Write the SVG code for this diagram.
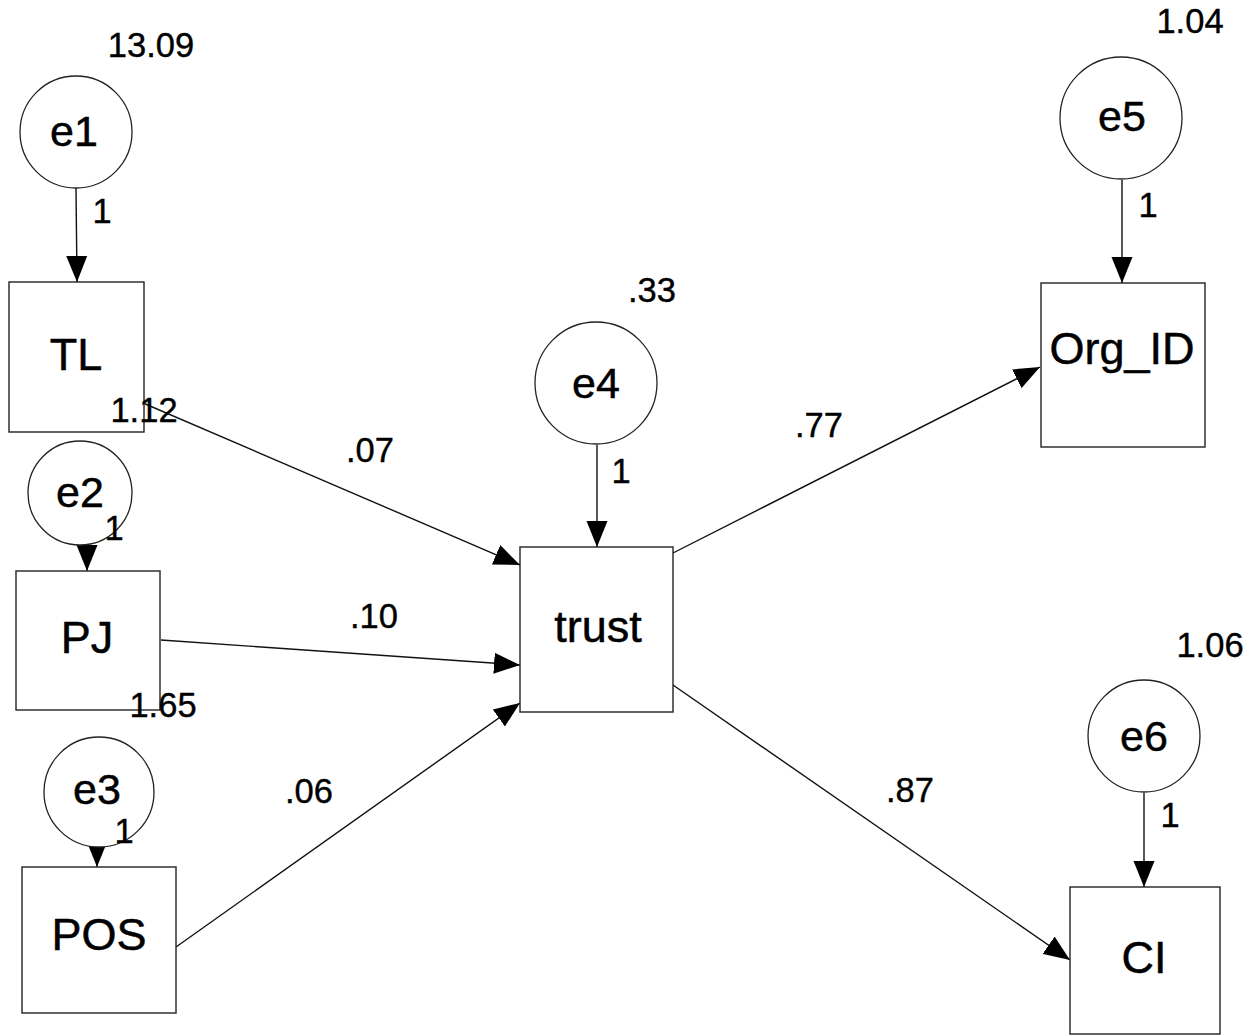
<svg xmlns="http://www.w3.org/2000/svg" width="1259" height="1036" viewBox="0 0 1259 1036">
  <style>
    .box { fill: #ffffff; stroke: #222222; stroke-width: 1.4; }
    .circ { fill: #ffffff; stroke: #222222; stroke-width: 1.3; }
    .edge { fill: none; stroke: #111111; stroke-width: 1.4; marker-end: url(#arrow); }
    .lbl { font-family: "Liberation Sans", Arial, sans-serif; font-size: 45px; fill: #000000; stroke: #000000; stroke-width: 0.5; text-anchor: middle; }
    .clbl { font-family: "Liberation Sans", Arial, sans-serif; font-size: 43px; fill: #000000; stroke: #000000; stroke-width: 0.5; text-anchor: middle; }
    .num { font-family: "Liberation Sans", Arial, sans-serif; font-size: 34.5px; fill: #000000; stroke: #000000; stroke-width: 0.4; text-anchor: middle; }
  </style>
  <defs>
    <marker id="arrow" markerUnits="userSpaceOnUse" markerWidth="27" markerHeight="22" refX="26" refY="11" orient="auto">
      <path d="M0,0.5 L26,11 L0,21.5 Z" fill="#000000"/>
    </marker>
  </defs>
  <rect width="1259" height="1036" fill="#ffffff"/>

  <g id="connectors">
    <line class="edge" x1="76" y1="188" x2="77" y2="282"/>
    <line class="edge" x1="87" y1="545" x2="87" y2="571"/>
    <line class="edge" x1="97" y1="847" x2="97" y2="867"/>
    <line class="edge" x1="597" y1="445" x2="597" y2="547"/>
    <line class="edge" x1="1122" y1="180" x2="1122" y2="283"/>
    <line class="edge" x1="1144" y1="793" x2="1144" y2="887"/>
    <line class="edge" x1="143" y1="403" x2="520" y2="565"/>
    <line class="edge" x1="161" y1="640" x2="520" y2="665"/>
    <line class="edge" x1="176" y1="947" x2="520" y2="703"/>
    <line class="edge" x1="673" y1="553" x2="1040" y2="367"/>
    <line class="edge" x1="673" y1="685" x2="1070" y2="960"/>
  </g>

  <g id="TL">
    <rect class="box" x="9" y="282" width="135" height="150"/>
    <text class="lbl" x="76" y="370">TL</text>
  </g>
  <g id="PJ">
    <rect class="box" x="16" y="571" width="144" height="139"/>
    <text class="lbl" x="87" y="653">PJ</text>
  </g>
  <g id="POS">
    <rect class="box" x="22" y="867" width="154" height="146"/>
    <text class="lbl" x="99" y="950">POS</text>
  </g>
  <g id="trust">
    <rect class="box" x="520" y="547" width="153" height="165"/>
    <text class="lbl" x="598" y="642">trust</text>
  </g>
  <g id="Org_ID">
    <rect class="box" x="1041" y="283" width="164" height="164"/>
    <text class="lbl" x="1122" y="364">Org_ID</text>
  </g>
  <g id="CI">
    <rect class="box" x="1070" y="887" width="150" height="147"/>
    <text class="lbl" x="1144" y="973">CI</text>
  </g>

  <g id="e1">
    <circle class="circ" cx="76" cy="132" r="56"/>
    <text class="clbl" x="74" y="146">e1</text>
  </g>
  <g id="e2">
    <circle class="circ" cx="80" cy="493" r="52"/>
    <text class="clbl" x="80" y="507">e2</text>
  </g>
  <g id="e3">
    <circle class="circ" cx="99" cy="792" r="55"/>
    <text class="clbl" x="97" y="804">e3</text>
  </g>
  <g id="e4">
    <circle class="circ" cx="596" cy="383" r="61"/>
    <text class="clbl" x="596" y="398">e4</text>
  </g>
  <g id="e5">
    <circle class="circ" cx="1121" cy="118" r="61"/>
    <text class="clbl" x="1122" y="131">e5</text>
  </g>
  <g id="e6">
    <circle class="circ" cx="1144" cy="736" r="56"/>
    <text class="clbl" x="1144" y="751">e6</text>
  </g>

  <g id="labels">
    <text class="num" x="151" y="57">13.09</text>
    <text class="num" x="102" y="223">1</text>
    <text class="num" x="144" y="422">1.12</text>
    <text class="num" x="370" y="462">.07</text>
    <text class="num" x="114" y="540">1</text>
    <text class="num" x="374" y="628">.10</text>
    <text class="num" x="163" y="717">1.65</text>
    <text class="num" x="124" y="843">1</text>
    <text class="num" x="309" y="803">.06</text>
    <text class="num" x="652" y="302">.33</text>
    <text class="num" x="621" y="483">1</text>
    <text class="num" x="819" y="437">.77</text>
    <text class="num" x="1190" y="33">1.04</text>
    <text class="num" x="1148" y="217">1</text>
    <text class="num" x="910" y="802">.87</text>
    <text class="num" x="1210" y="657">1.06</text>
    <text class="num" x="1170" y="827">1</text>
  </g>
</svg>
